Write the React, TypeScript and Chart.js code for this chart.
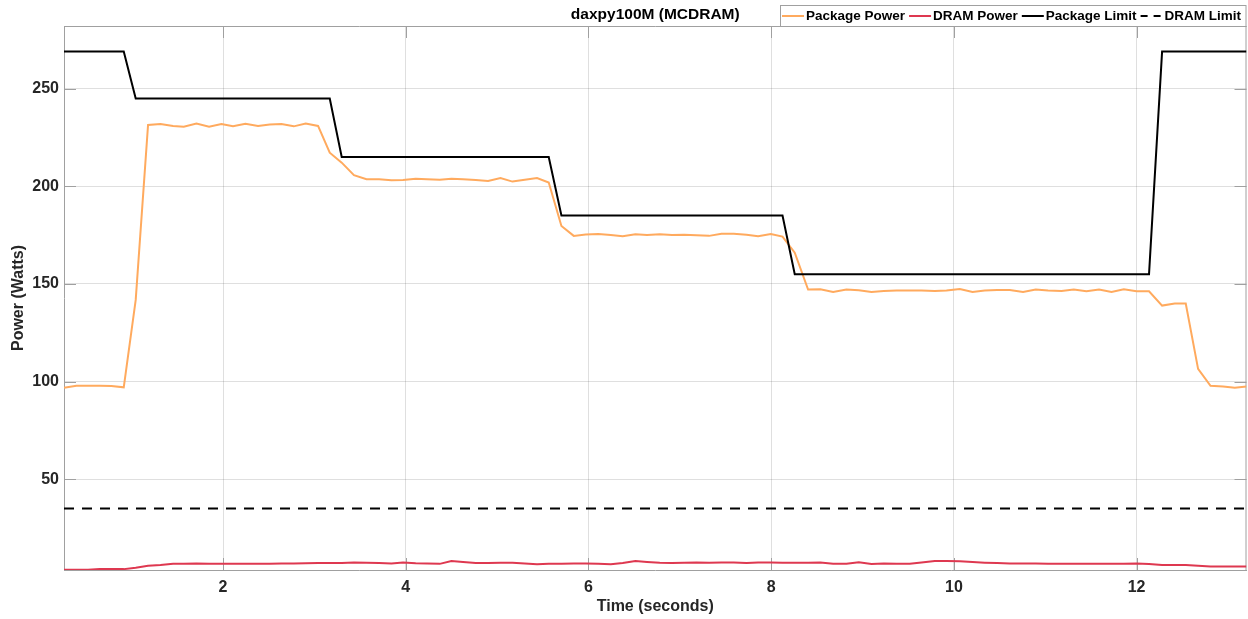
import React, { useEffect, useRef } from 'react';
import { Chart, registerables } from 'chart.js';

Chart.register(...registerables);

const TITLE = 'daxpy100M (MCDRAM)';
const X_TITLE = 'Time (seconds)';
const Y_TITLE = 'Power (Watts)';
const X_TICKS = [2, 4, 6, 8, 10, 12];
const Y_TICKS = [50, 100, 150, 200, 250];
const X_MIN = 0.259;
const X_MAX = 13.203;
const Y_MIN = 3.45;
const Y_MAX = 282.1;

const TIMES = [
  0.259, 0.395, 0.522, 0.65, 0.778, 0.913, 1.044, 1.179, 1.315, 1.453,
  1.57, 1.709, 1.847, 1.982, 2.109, 2.245, 2.383, 2.511, 2.639, 2.774,
  2.905, 3.04, 3.168, 3.299, 3.433, 3.57, 3.708, 3.843, 3.97, 4.109,
  4.233, 4.372, 4.5, 4.627, 4.766, 4.901, 5.037, 5.168, 5.303, 5.437,
  5.565, 5.704, 5.839, 5.97, 6.107, 6.244, 6.375, 6.514, 6.641, 6.781,
  6.915, 7.047, 7.182, 7.32, 7.456, 7.59, 7.73, 7.857, 7.996, 8.124,
  8.258, 8.404, 8.538, 8.678, 8.824, 8.959, 9.098, 9.233, 9.372, 9.517,
  9.645, 9.791, 9.919, 10.065, 10.204, 10.338, 10.473, 10.612, 10.757, 10.896,
  11.031, 11.178, 11.312, 11.451, 11.589, 11.725, 11.86, 11.999, 12.136, 12.279,
  12.418, 12.538, 12.673, 12.809, 12.947, 13.075, 13.203,
];

const PACKAGE_POWER = [
  96.8, 97.8, 97.8, 97.8, 97.7, 97.0, 141.8, 231.4, 231.9, 230.9,
  230.5, 232.2, 230.5, 231.9, 230.7, 232.0, 230.9, 231.7, 231.9, 230.7,
  232.2, 230.9, 217.2, 212.1, 205.7, 203.6, 203.6, 203.1, 203.2, 203.9,
  203.6, 203.4, 203.9, 203.6, 203.2, 202.7, 204.2, 202.4, 203.4, 204.2,
  201.9, 179.7, 174.6, 175.3, 175.5, 175.1, 174.4, 175.4, 175.1, 175.4,
  175.1, 175.2, 174.9, 174.6, 175.7, 175.7, 175.2, 174.4, 175.6, 174.2,
  166.0, 147.1, 147.3, 145.8, 147.1, 146.8, 145.9, 146.4, 146.6, 146.6,
  146.6, 146.4, 146.6, 147.4, 145.8, 146.6, 146.9, 146.9, 145.8, 147.1,
  146.6, 146.4, 147.1, 146.2, 147.1, 145.8, 147.3, 146.2, 146.2, 138.9,
  139.9, 139.9, 106.5, 97.8, 97.5, 96.8, 97.5,
];

const DRAM_POWER = [
  3.6, 3.6, 3.6, 3.9, 4.0, 3.9, 4.6, 5.6, 6.0, 6.6,
  6.7, 6.8, 6.6, 6.6, 6.6, 6.6, 6.7, 6.7, 6.8, 6.8,
  6.9, 7.0, 7.0, 7.0, 7.3, 7.1, 7.0, 6.8, 7.3, 6.9,
  6.8, 6.6, 8.1, 7.6, 7.0, 7.0, 7.2, 7.1, 6.8, 6.4,
  6.6, 6.7, 6.8, 6.8, 6.6, 6.4, 7.0, 8.0, 7.6, 7.2,
  7.0, 7.2, 7.3, 7.2, 7.3, 7.3, 7.0, 7.3, 7.3, 7.2,
  7.1, 7.2, 7.3, 6.7, 6.6, 7.4, 6.5, 6.8, 6.7, 6.6,
  7.3, 8.1, 8.0, 7.9, 7.5, 7.2, 7.0, 6.8, 6.8, 6.8,
  6.7, 6.6, 6.6, 6.6, 6.6, 6.6, 6.6, 6.8, 6.5, 6.0,
  6.0, 6.0, 5.6, 5.3, 5.2, 5.2, 5.2,
];

const PACKAGE_LIMIT = [
  269, 269, 269, 269, 269, 269, 245, 245, 245, 245,
  245, 245, 245, 245, 245, 245, 245, 245, 245, 245,
  245, 245, 245, 215, 215, 215, 215, 215, 215, 215,
  215, 215, 215, 215, 215, 215, 215, 215, 215, 215,
  215, 185, 185, 185, 185, 185, 185, 185, 185, 185,
  185, 185, 185, 185, 185, 185, 185, 185, 185, 185,
  155, 155, 155, 155, 155, 155, 155, 155, 155, 155,
  155, 155, 155, 155, 155, 155, 155, 155, 155, 155,
  155, 155, 155, 155, 155, 155, 155, 155, 155, 269,
  269, 269, 269, 269, 269, 269, 269,
];

const DRAM_LIMIT = [
  35, 35, 35, 35, 35, 35, 35, 35, 35, 35,
  35, 35, 35, 35, 35, 35, 35, 35, 35, 35,
  35, 35, 35, 35, 35, 35, 35, 35, 35, 35,
  35, 35, 35, 35, 35, 35, 35, 35, 35, 35,
  35, 35, 35, 35, 35, 35, 35, 35, 35, 35,
  35, 35, 35, 35, 35, 35, 35, 35, 35, 35,
  35, 35, 35, 35, 35, 35, 35, 35, 35, 35,
  35, 35, 35, 35, 35, 35, 35, 35, 35, 35,
  35, 35, 35, 35, 35, 35, 35, 35, 35, 35,
  35, 35, 35, 35, 35, 35, 35,
];

const SERIES_LABELS = ['Package Power', 'DRAM Power', 'Package Limit', 'DRAM Limit'];
const SERIES_COLORS = ['rgb(255,170,94)', 'rgb(222,56,80)', '#000000', '#000000'];
const SERIES_DASH: number[][] = [[], [], [], [10, 8]];

const FONT = '"Liberation Sans", Arial, Helvetica, sans-serif';
const TEXT_COLOR = '#262626';
const AXIS_COLOR = '#a0a0a0';
const GRID_COLOR = 'rgba(38,38,38,0.15)';

function toPoints(values: number[]) {
  return values.map((v, i) => ({ x: TIMES[i], y: v }));
}

const decorPlugin = {
  id: 'decor',
  beforeDatasetsDraw(chart: any) {
    const { ctx, chartArea: a, scales } = chart;
    ctx.save();
    ctx.strokeStyle = AXIS_COLOR;
    ctx.lineWidth = 1;
    ctx.beginPath();
    // top & right box
    ctx.moveTo(a.left, a.top + 0.5);
    ctx.lineTo(a.right, a.top + 0.5);
    ctx.moveTo(a.right - 0.5, a.top);
    ctx.lineTo(a.right - 0.5, a.bottom);
    const tl = 12;
    X_TICKS.forEach((t) => {
      const px = Math.round(scales.x.getPixelForValue(t)) + 0.5;
      ctx.moveTo(px, a.bottom);
      ctx.lineTo(px, a.bottom - tl);
      ctx.moveTo(px, a.top);
      ctx.lineTo(px, a.top + tl);
    });
    Y_TICKS.forEach((t) => {
      const py = Math.round(scales.y.getPixelForValue(t)) + 0.5;
      ctx.moveTo(a.left, py);
      ctx.lineTo(a.left + tl, py);
      ctx.moveTo(a.right, py);
      ctx.lineTo(a.right - tl, py);
    });
    ctx.stroke();
    ctx.restore();
  },
  afterDraw(chart: any) {
    const { ctx, chartArea: a } = chart;
    ctx.save();
    // title
    ctx.fillStyle = '#000';
    ctx.font = `bold 15.5px ${FONT}`;
    ctx.textAlign = 'center';
    ctx.textBaseline = 'middle';
    ctx.fillText(TITLE, (a.left + a.right) / 2, 15);
    // axis titles
    ctx.fillStyle = TEXT_COLOR;
    ctx.font = `bold 16px ${FONT}`;
    ctx.fillText(X_TITLE, (a.left + a.right) / 2, 607);
    ctx.save();
    ctx.translate(19, (a.top + a.bottom) / 2);
    ctx.rotate(-Math.PI / 2);
    ctx.fillText(Y_TITLE, 0, 0);
    ctx.restore();
    // legend
    const boxLeft = 780;
    const boxTop = 5.5;
    ctx.fillStyle = '#fff';
    ctx.fillRect(boxLeft, boxTop, a.right - boxLeft, a.top - boxTop);
    ctx.strokeStyle = AXIS_COLOR;
    ctx.lineWidth = 1;
    ctx.strokeRect(boxLeft + 0.5, boxTop, a.right - boxLeft - 1, a.top - boxTop + 0.5);
    ctx.font = `bold 13.5px ${FONT}`;
    ctx.textAlign = 'left';
    ctx.textBaseline = 'middle';
    let x = boxLeft + 2;
    const y = 16;
    SERIES_LABELS.forEach((label, i) => {
      ctx.strokeStyle = SERIES_COLORS[i];
      ctx.lineWidth = 2;
      ctx.setLineDash(i === 3 ? [7, 6] : []);
      ctx.beginPath();
      ctx.moveTo(x, y);
      ctx.lineTo(x + 22, y);
      ctx.stroke();
      ctx.setLineDash([]);
      ctx.fillStyle = '#000';
      ctx.fillText(label, x + 24, y + 0.5);
      x += 24 + ctx.measureText(label).width + 4;
    });
    ctx.restore();
  },
};

export default function App() {
  const canvasRef = useRef<HTMLCanvasElement | null>(null);

  useEffect(() => {
    if (!canvasRef.current) return;
    const seriesValues = [PACKAGE_POWER, DRAM_POWER, PACKAGE_LIMIT, DRAM_LIMIT];
    const chart = new Chart(canvasRef.current, {
      type: 'line',
      data: {
        datasets: seriesValues.map((vals, i) => ({
          label: SERIES_LABELS[i],
          data: toPoints(vals),
          borderColor: SERIES_COLORS[i],
          backgroundColor: SERIES_COLORS[i],
          borderWidth: 2,
          borderDash: SERIES_DASH[i],
          pointRadius: 0,
          tension: 0,
          fill: false,
          order: 4 - i,
        })),
      },
      options: {
        animation: false,
        responsive: false,
        devicePixelRatio: 1,
        layout: { padding: { top: 26, right: 1.5, left: 0, bottom: 0 } },
        plugins: {
          legend: { display: false },
          title: { display: false },
          tooltip: { enabled: false },
        },
        scales: {
          x: {
            type: 'linear',
            min: X_MIN,
            max: X_MAX,
            afterBuildTicks: (s: any) => {
              s.ticks = X_TICKS.map((v) => ({ value: v }));
            },
            afterFit: (s: any) => {
              s.height = 49;
            },
            grid: { color: GRID_COLOR, drawTicks: false },
            border: { color: AXIS_COLOR, width: 1 },
            ticks: {
              color: TEXT_COLOR,
              font: { family: FONT, size: 16, weight: 'bold' },
              padding: 8,
              maxRotation: 0,
              autoSkip: false,
            },
          },
          y: {
            type: 'linear',
            min: Y_MIN,
            max: Y_MAX,
            afterBuildTicks: (s: any) => {
              s.ticks = Y_TICKS.map((v) => ({ value: v }));
            },
            afterFit: (s: any) => {
              s.width = 64;
            },
            grid: { color: GRID_COLOR, drawTicks: false },
            border: { color: AXIS_COLOR, width: 1 },
            ticks: {
              color: TEXT_COLOR,
              font: { family: FONT, size: 16, weight: 'bold' },
              padding: 5,
              autoSkip: false,
            },
          },
        },
      },
      plugins: [decorPlugin],
    } as any);
    return () => chart.destroy();
  }, []);

  return (
    <div style={{ position: 'absolute', left: 0, top: 0, width: 1248, height: 619, background: '#fff' }}>
      <canvas ref={canvasRef} width={1248} height={619} style={{ width: 1248, height: 619 }} />
    </div>
  );
}
